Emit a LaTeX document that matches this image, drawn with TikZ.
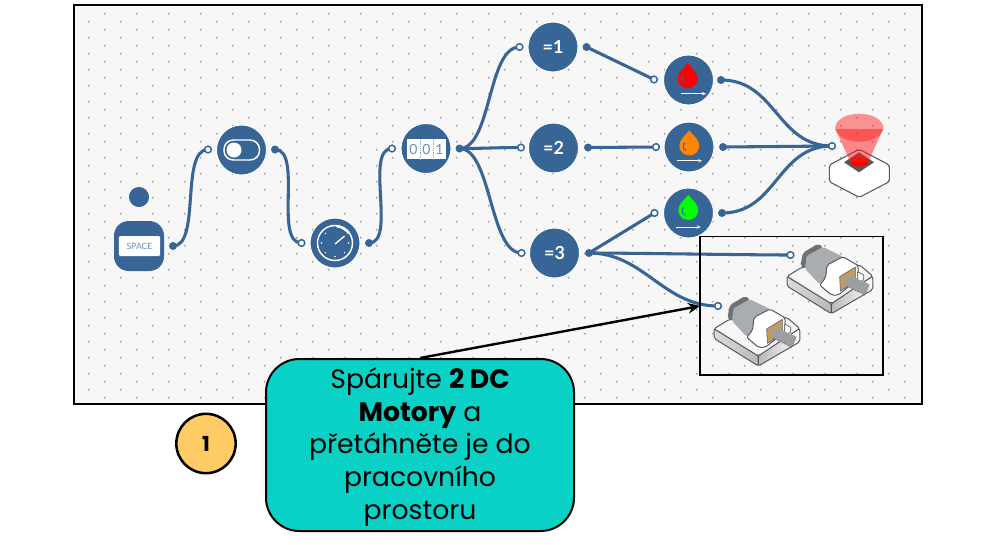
\documentclass[tikz,border=0pt]{standalone}
\usepackage{fontspec}
\setmainfont{Poppins}
\newfontfamily\latofont{Lato}
\usetikzlibrary{arrows.meta,calc}
\definecolor{blk}{HTML}{366596}
\definecolor{canvas}{HTML}{F7F7F7}
\definecolor{griddot}{HTML}{ABABAB}
\definecolor{callfill}{HTML}{09D1C6}
\definecolor{numfill}{HTML}{FFCB64}
\definecolor{digit}{HTML}{6C8FB8}
\definecolor{mline}{HTML}{55585C}
\definecolor{mdark}{HTML}{6E7175}
\definecolor{mmid}{HTML}{AAADAF}
\definecolor{mbrown}{HTML}{C09A67}
\definecolor{mshaft}{HTML}{9C9EA2}
\pgfdeclarelayer{canvaslayer}
\pgfdeclarelayer{wirelayer}
\pgfsetlayers{canvaslayer,wirelayer,main}
\tikzset{
  block/.style={circle,fill=blk,draw=white,line width=.7pt,minimum size=37.5pt,inner sep=0pt,font=\latofont\bfseries\fontsize{13.5}{14}\selectfont,text=white},
  portin/.style={circle,fill=white,draw=blk,line width=1.1pt,minimum size=5pt,inner sep=0pt},
  portout/.style={circle,fill=blk,minimum size=6pt,inner sep=0pt},
  wire/.style={draw=blk,line width=2.3pt},
  scurve/.style={to path={.. controls +(#1,0) and +(-#1,0) .. (\tikztotarget)}},
  scurve/.default=30,
  ink/.style={draw=white,line width=1.1pt},
  dropmark/.style={-{Stealth[length=3pt,width=2.6pt]},draw=white,line width=.6pt}
}
\newcommand{\dcmotor}[2]{%
\begin{scope}[shift={(#1,#2)},x=.25pt,y=-.25pt,line join=round]
  \path[draw=mline,line width=.75pt,left color=gray!28,right color=gray!55,rounded corners=1.5pt]
    (72,296)--(72,325)--(205,408)--(205,376)--cycle;
  \path[draw=mline,line width=.75pt,left color=gray!55,right color=white,rounded corners=1.5pt]
    (205,376)--(205,408)--(330,335)--(329,295)--cycle;
  \path[draw=mline,line width=.75pt,fill=gray!7,rounded corners=1.5pt]
    (72,296)--(118,268)--(290,262)--(329,295)--(205,378)--cycle;
  \path[fill=mdark,rounded corners=1.5pt] (112,264)--(120,225)--(165,198)--(180,208)--(130,236)--(127,274)--cycle;
  \path[fill=mmid,rounded corners=1pt] (127,274)--(130,236)--(180,208)--(242,238)--(192,262)--(188,302)--(170,320)--cycle;
  \path[draw=mline,line width=.75pt,fill=white,rounded corners=1.5pt]
    (170,322)--(188,300)--(192,262)--(240,237)--(286,264)--(284,305)--(226,352)--(205,352)--cycle;
  \path[fill=white,draw=mline,line width=.5pt] (284,282)--(302,292)--(302,306)--(284,316)--cycle;
  \path[fill=mbrown,draw=mline,line width=.4pt] (230,297)--(277,268)--(277,312)--(232,340)--cycle;
  \path[fill=mshaft,rounded corners=1pt] (245,303)--(262,295)--(320,320)--(305,352)--(250,325)--cycle;
  \draw[mline,line width=.5pt,densely dotted] (250,325)--(305,352)--(320,320);
\end{scope}}
\newcommand{\waterdrop}[6]{% colour, cx, cy, arrow x1, arrow x2, arrow y
  \path[fill=#1] (#2,#3-15) .. controls (#2+3,#3-11) and (#2+10,#3-6) .. (#2+10,#3)
     arc[start angle=0,end angle=180,radius=10]
     .. controls (#2-10,#3-6) and (#2-3,#3-11) .. cycle;
  \draw[blk,line width=.8pt] (#2-4.5,#3-3) .. controls (#2-7,#3) and (#2-6.5,#3+3) .. (#2-3.5,#3+5);
  \draw[dropmark] (#4,#6) -- (#5,#6);
}
\begin{document}
\begin{tikzpicture}[x=.75pt,y=-.75pt]
\useasboundingbox (0,0) rectangle (997,544);
\begin{pgfonlayer}{canvaslayer}
  \fill[white] (0,0) rectangle (997,544);
  \fill[canvas] (74,5) rectangle (922,404);
  \foreach \r in {0,...,23}{\foreach \c in {0,...,25}{
    \fill[griddot] ({88.7+32*\c},{21.7+16*\r}) circle[radius=1.1];}}
  \foreach \r in {0,...,24}{\foreach \c in {0,...,25}{
    \fill[griddot] ({104.7+32*\c},{13.7+16*\r}) circle[radius=1.1];}}
\end{pgfonlayer}

% lamp
\path[fill=white,draw=gray!70!black,line width=.8pt,line join=round,rounded corners=1.5pt] (859.3,149.3)--(889.3,165)--(889.3,181.7)--(859.3,197.3)--(829.3,181.7)--(829.3,165)--cycle;
\path[fill=gray!70!black] (859,152.3)--(874,162.3)--(859,172.3)--(844,162.3)--cycle;
\fill[red] (859.3,161.7) ellipse[x radius=9,y radius=5];
\fill[red!90!white,opacity=.5] (835.5,129)--(883,129)--(868.3,162)--(850.3,162)--cycle;
\fill[red!90!white,opacity=.45] (859.3,127.7) ellipse[x radius=24,y radius=14];

% key block
\node[circle,fill=blk,draw=white,line width=.7pt,minimum size=16pt,inner sep=0pt] (head) at (139,197) {};
\node[rounded corners=11pt,fill=blk,minimum size=37.5pt,inner sep=0pt] (space) at (139,246) {};
\node[fill=white,rounded corners=1pt,minimum width=31pt,minimum height=15pt,inner sep=0pt,text=digit,font=\latofont\fontsize{6.5}{7}\selectfont] (spacekey) at (139.5,246) {SPACE};

% circular blocks
\node[block] (toggle) at (241.5,150) {};
\node[block] (timer) at (335,243) {};
\node[block] (counter) at (426,148.5) {};
\node[block] (eqone) at (553,47) {=1};
\node[block] (eqtwo) at (553.5,148) {=2};
\node[block] (eqthree) at (554.5,253) {=3};
\node[block] (red) at (688.5,80) {};
\node[block] (orange) at (689,147) {};
\node[block] (green) at (688.5,213) {};

% icons
\draw[ink,rounded corners=7pt] (224,140)rectangle(259.5,160);
\fill[white] (234,150) circle[radius=7.5];
\draw[white,line width=1.1pt] (335,243) circle[radius=17.5];
\draw[white,line width=1.9pt] (335,243) ++(-85:17) arc[start angle=-85,end angle=-35,radius=17];
\draw[white,line width=1pt] (335,244)--(344.5,236);
\foreach \a in {0,45,90,135,180,225}{\fill[white] ($(335,243)+(\a:13.5)$) circle[radius=.8];}
\path[fill=white] (407,139) rectangle (446,159);
\foreach \xx in {420,433}{\draw[blk!60,line width=.35pt,densely dotted] (\xx,139)--(\xx,159);}
\foreach \xx/\dd in {413.5/0,426.5/0,439.5/1}{\node[text=digit,inner sep=0pt,font=\latofont\fontsize{10.5}{11}\selectfont] at (\xx,149) {\dd};}
\waterdrop{red}{687.7}{78.3}{680.5}{706}{93.7}
\waterdrop{orange!95!yellow}{689.3}{145.5}{676.7}{702}{160.7}
\waterdrop{green}{688.3}{210}{676}{700.7}{227}

% ports
\node[portout] (pSpaceOut) at (173,246) {};
\node[portin] (pToggleIn) at (208,149.5) {};
\node[portout] (pToggleOut) at (275,149.5) {};
\node[portin] (pTimerIn) at (301.5,243) {};
\node[portout] (pTimerOut) at (369,243) {};
\node[portin] (pCounterIn) at (392,148.5) {};
\node[portout] (pCounterOut) at (459.5,148.5) {};
\node[portin] (pOneIn) at (519.5,47) {};
\node[portin] (pTwoIn) at (521,147.5) {};
\node[portin] (pThreeIn) at (521.5,253) {};
\node[portout] (pOneOut) at (586.5,47) {};
\node[portout] (pTwoOut) at (588,147.5) {};
\node[portout] (pThreeOut) at (589,253) {};
\node[portin] (pRedIn) at (654,79.5) {};
\node[portin] (pOrangeIn) at (656,147) {};
\node[portin] (pGreenIn) at (654.5,213) {};
\node[portout] (pRedOut) at (721,80) {};
\node[portout] (pOrangeOut) at (723,147) {};
\node[portout] (pGreenOut) at (722,213) {};
\node[portin] (pLampIn) at (832,146) {};
\node[portin] (pMotorAIn) at (790.5,255) {};
\node[portin] (pMotorBIn) at (718,306) {};

% wires
\begin{pgfonlayer}{wirelayer}
  \draw[wire] (pSpaceOut.center) to[scurve=28] (pToggleIn.center);
  \draw[wire] (pToggleOut.center) to[scurve=28] (pTimerIn.center);
  \draw[wire] (pTimerOut.center) to[scurve=28] (pCounterIn.center);
  \draw[wire] (pCounterOut.center) to[scurve=32] (pOneIn.center);
  \draw[wire] (pCounterOut.center) to[scurve=25] (pTwoIn.center);
  \draw[wire] (pCounterOut.center) to[scurve=32] (pThreeIn.center);
  \draw[wire] (pOneOut.center) -- (pRedIn.center);
  \draw[wire] (pTwoOut.center) -- (pOrangeIn.center);
  \draw[wire] (pThreeOut.center) -- (pGreenIn.center);
  \draw[wire] (pThreeOut.center) to[scurve=40] (pMotorAIn.center);
  \draw[wire] (pThreeOut.center) to[scurve=55] (pMotorBIn.center);
  \draw[wire] (pRedOut.center) to[scurve=55] (pLampIn.center);
  \draw[wire] (pOrangeOut.center) -- (pLampIn.center);
  \draw[wire] (pGreenOut.center) to[scurve=55] (pLampIn.center);
\end{pgfonlayer}

% motors
\dcmotor{763}{177.7}
\dcmotor{690}{230}

% frames
\draw[black,line width=1.1pt] (74,5) rectangle (922,404);
\draw[black,line width=1.4pt] (700,236.5) rectangle (883,375);

% callout
\coordinate (motorTarget) at (700,306);
\node[rounded corners=25pt,fill=callfill,draw=black,line width=1.5pt,minimum width=231pt,minimum height=129pt,inner sep=0pt] (callout) at (420,445) {};
\node[inner sep=0pt,align=center,font=\fontsize{20}{24.4}\selectfont] (callouttext) at (420,447) {Spárujte \textbf{2 DC}\\\textbf{Motory} a\\přetáhněte je do\\pracovního\\prostoru};
\draw[-{Stealth[length=9pt,width=8pt]},black,line width=1.8pt] (callout.north) -- (motorTarget);

% number
\node[circle,fill=numfill,draw=black,line width=1.9pt,minimum size=44.5pt,inner sep=0pt,font=\bfseries\fontsize{15.5}{16}\selectfont] (numone) at (206,443.5) {1};
\end{tikzpicture}
\end{document}
